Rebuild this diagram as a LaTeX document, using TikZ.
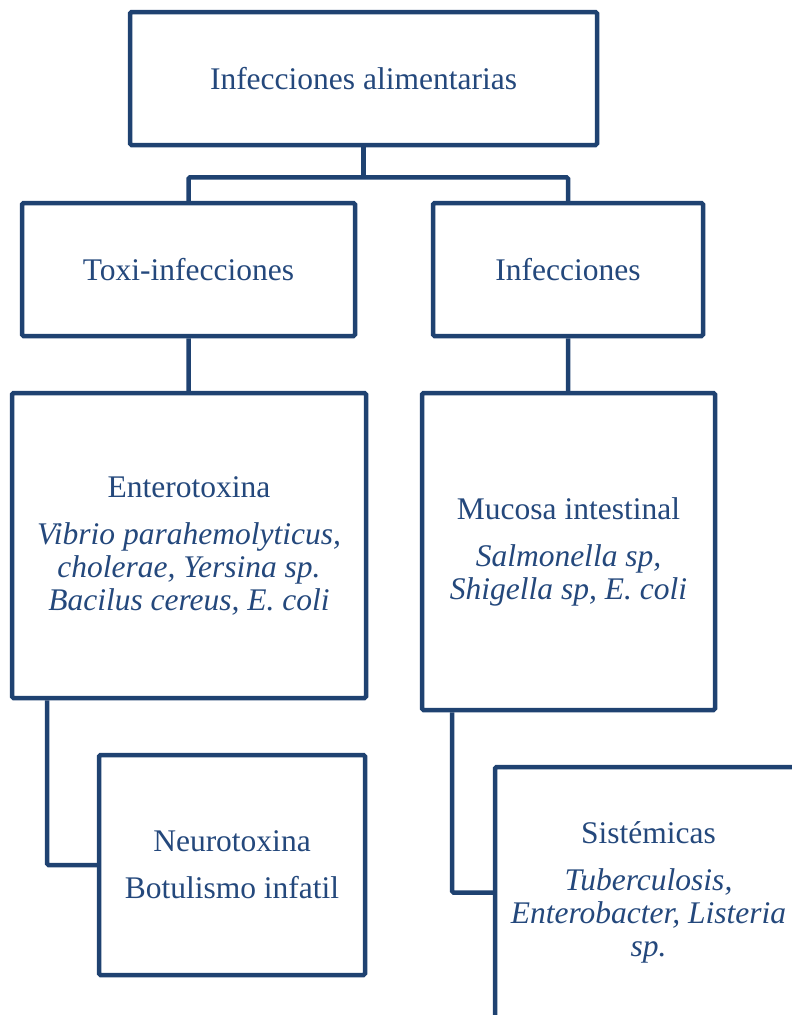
\documentclass[tikz,border=0pt]{standalone}
\usepackage{fontspec}
\setmainfont{Liberation Serif}
\usepackage{tikz}
\usetikzlibrary{positioning}
\definecolor{ChartInk}{HTML}{1F4271}
\definecolor{ChartText}{HTML}{24487C}

\begin{document}
\begin{tikzpicture}[x=1pt, y=-1pt,
  category/.style={draw=ChartInk, line width=4.5pt, rounded corners=1.5pt,
                   fill=white, align=center, text=ChartText, inner sep=0pt,
                   font=\fontsize{31.5}{33}\selectfont},
  link/.style={draw=ChartInk, line width=4.5pt, rounded corners=1.5pt}
]
\clip (0,0) rectangle (792,1015);
\node[category, minimum width=467pt, minimum height=133pt] (raiz) at (363.5,78.5)
  {Infecciones alimentarias};
\node[category, minimum width=333pt, minimum height=133pt] (toxi) at (188.5,269.5)
  {Toxi-infecciones};
\node[category, minimum width=270pt, minimum height=133pt] (inf) at (568,269.5)
  {Infecciones};
\node[category, minimum width=354pt, minimum height=305pt] (entero) at (189,545.5)
  {Enterotoxina\\[14pt]
   \itshape Vibrio parahemolyticus,\\
   \itshape cholerae, Yersina sp.\\
   \itshape Bacilus cereus, E. coli};
\node[category, minimum width=293pt, minimum height=317pt] (mucosa) at (568.5,551.5)
  {Mucosa intestinal\\[14pt]
   \itshape Salmonella sp,\\
   \itshape Shigella sp, E. coli};
\node[category, minimum width=266pt, minimum height=220pt] (neuro) at (232,865)
  {Neurotoxina\\[14pt]
   Botulismo infatil};
\node[category, minimum width=307pt, minimum height=251pt] (sist) at (648.5,892.5)
  {Sistémicas\\[14pt]
   \itshape Tuberculosis,\\
   \itshape Enterobacter, Listeria\\
   \itshape sp.};
\draw[link] (raiz.south) -- ++(0,30) coordinate (bus);
\draw[link] (toxi.north) |- (bus) -| (inf.north);
\draw[link] (toxi) -- (entero);
\draw[link] (inf) -- (mucosa);
\draw[link] ([xshift=-142pt]entero.south) |- (neuro.west);
\draw[link] ([xshift=-116.5pt]mucosa.south) |- (sist.west);
\end{tikzpicture}
\end{document}
